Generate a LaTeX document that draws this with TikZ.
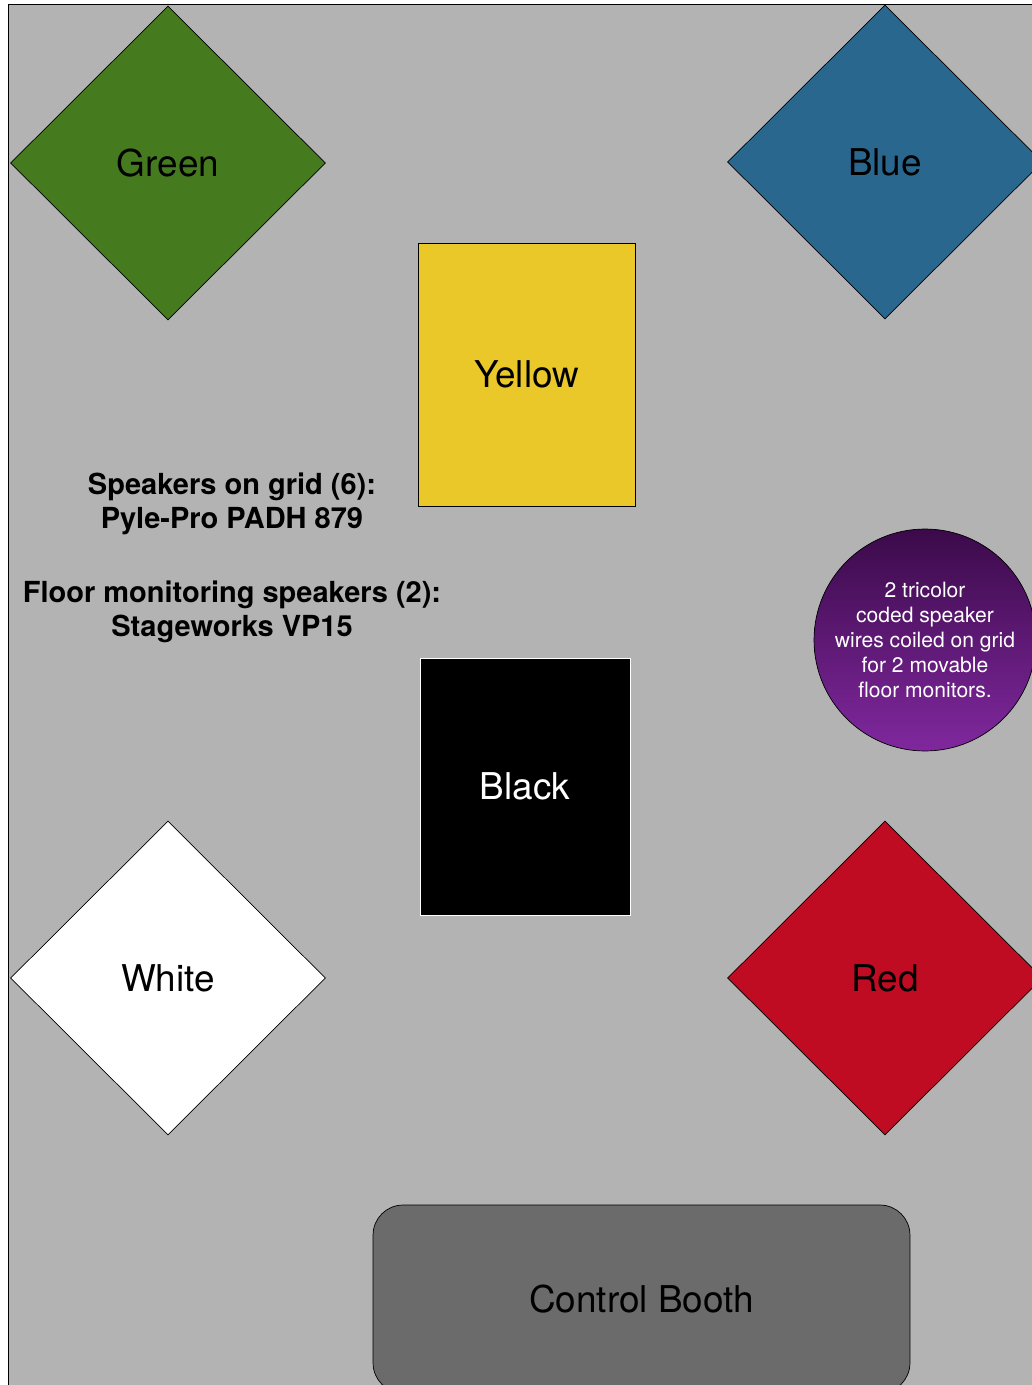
\documentclass[tikz,border=0pt]{standalone}
\usepackage{fontspec}
\setmainfont{TeX Gyre Heros}
\usetikzlibrary{shapes.geometric}
\definecolor{stagegray}{HTML}{B3B3B3}
\definecolor{boothgray}{HTML}{6B6B6B}
\definecolor{lightgreen}{HTML}{457A1F}
\definecolor{lightblue}{HTML}{2A678F}
\definecolor{lightred}{HTML}{C00C22}
\definecolor{lightyellow}{HTML}{EBC82A}
\definecolor{purpletop}{HTML}{3B0A4A}
\definecolor{purplebottom}{HTML}{80289E}

\begin{document}
\begin{tikzpicture}[x=0.02cm,y=-0.02cm]

\tikzset{light/.style = {shape=diamond,draw,inner sep=0pt,minimum width=6.3cm,minimum height=6.28cm,font=\fontsize{21}{25}\selectfont}}
\tikzset{panel/.style = {shape=rectangle,draw,inner sep=0pt,font=\fontsize{21}{25}\selectfont}}
\tikzset{note/.style = {align=center,font=\bfseries\fontsize{16.5}{19.3}\selectfont}}
\useasboundingbox (0,0) rectangle (1031,1385);
%stage
\draw[fill=stagegray] (8,4) rectangle (1045,1400);
%lights
\node[light, fill=lightgreen] (green) at (168,163) {Green};
\node[light, fill=lightblue] (blue) at (885,162) {Blue};
\node[light, fill=white] (white) at (168,978) {White};
\node[light, fill=lightred] (red) at (885,978) {Red};
\node[panel, fill=lightyellow, minimum width=4.34cm, minimum height=5.26cm] (yellow) at (526.5,374.5) {Yellow};
\node[panel, draw=white, fill=black, text=white, minimum width=4.2cm, minimum height=5.14cm] (black) at (525,786.5) {Black};
%wires
\node[circle, draw, top color=purpletop, bottom color=purplebottom, minimum size=4.44cm, inner sep=0pt, align=center, text=white, font=\fontsize{12}{14.2}\selectfont] (wires) at (925,640) {2 tricolor\\coded speaker\\wires coiled on grid\\for 2 movable\\floor monitors.};
%notes
\node[note] (grid) at (232,504) {Speakers on grid (6):\\Pyle-Pro PADH 879};
\node[note] (floor) at (232,612) {Floor monitoring speakers (2):\\Stageworks VP15};
%booth
\node[panel, fill=boothgray, rounded corners=0.6cm, minimum width=10.74cm, minimum height=3.76cm] (booth) at (641.5,1299) {Control Booth};

\end{tikzpicture}
\end{document}
